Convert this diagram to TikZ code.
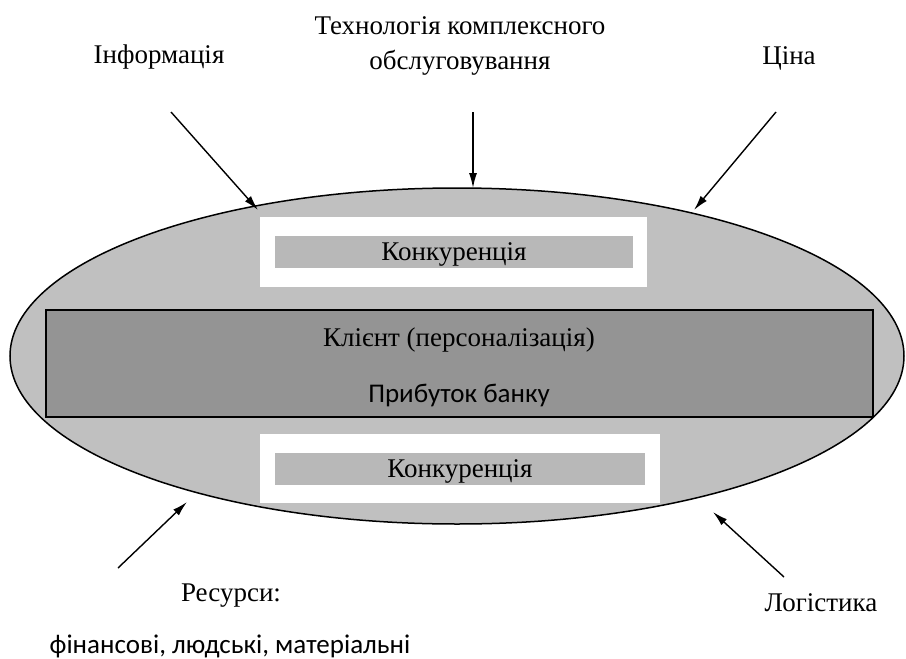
\documentclass[tikz,border=0pt]{standalone}
\usepackage{fontspec}
\setmainfont{Liberation Serif}
\newfontfamily\carl{Carlito}
\usetikzlibrary{arrows.meta,shapes.geometric}
\definecolor{ellgray}{HTML}{C0C0C0}
\definecolor{darkgray2}{HTML}{949494}
\definecolor{boxgray}{HTML}{B8B8B8}
\begin{document}
\begin{tikzpicture}[x=1pt,y=-1pt,
  lbl/.style={font=\fontsize{27}{35}\selectfont, inner sep=0pt, align=center},
  slbl/.style={font=\carl\fontsize{27}{32}\selectfont, inner sep=0pt},
  arr/.style={line width=1.4pt, -{Latex[length=15pt,width=8pt]}},
  whitebox/.style={fill=white, draw=none, inner sep=0pt},
  graybox/.style={fill=boxgray, draw=none, inner sep=0pt}]
\useasboundingbox (0,0) rectangle (906,659);
% ellipse
\draw[fill=ellgray, line width=1.5pt] (457,356) ellipse [x radius=447, y radius=168];
% central dark rectangle
\node[draw=black, line width=1.5pt, fill=darkgray2, minimum width=827pt, minimum height=107pt, inner sep=0pt] (client) at (459.5,363.5) {};
\node[lbl] (clienttxt) at (459,340) {Клієнт (персоналізація)};
\node[slbl] (profit) at (459,395) {Прибуток банку};
% top competition box
\node[whitebox, minimum width=387pt, minimum height=70pt] (topw) at (453.5,252) {};
\node[graybox, minimum width=358pt, minimum height=32pt] (topg) at (454,252) {};
\node[lbl] (toptxt) at (454,254) {Конкуренція};
% bottom competition box
\node[whitebox, minimum width=400pt, minimum height=69pt] (botw) at (460,468.5) {};
\node[graybox, minimum width=370pt, minimum height=32pt] (botg) at (460,469) {};
\node[lbl] (bottxt) at (460,471) {Конкуренція};
% labels
\node[lbl] (tech) at (460,46) {Технологія комплексного\\обслуговування};
\node[lbl] (info) at (159,57) {Інформація};
\node[lbl] (price) at (789,58) {Ціна};
\node[lbl] (res) at (231,596) {Ресурси:};
\node[lbl] (log) at (821,603) {Логістика};
\node[slbl] (resdet) at (230,646) {фінансові, людські, матеріальні};
% arrow endpoints
\coordinate (infoS) at (171,112);
\coordinate (infoE) at (258,210);
\coordinate (techS) at (473,112);
\coordinate (techE) at (473,188);
\coordinate (priceS) at (776,112);
\coordinate (priceE) at (694,210);
\coordinate (resS) at (118,568);
\coordinate (resE) at (187,502);
\coordinate (logS) at (784,577);
\coordinate (logE) at (713,512);
\draw[arr] (infoS) -- (infoE);
\draw[arr] (techS) -- (techE);
\draw[arr] (priceS) -- (priceE);
\draw[arr] (resS) -- (resE);
\draw[arr] (logS) -- (logE);
\end{tikzpicture}
\end{document}
